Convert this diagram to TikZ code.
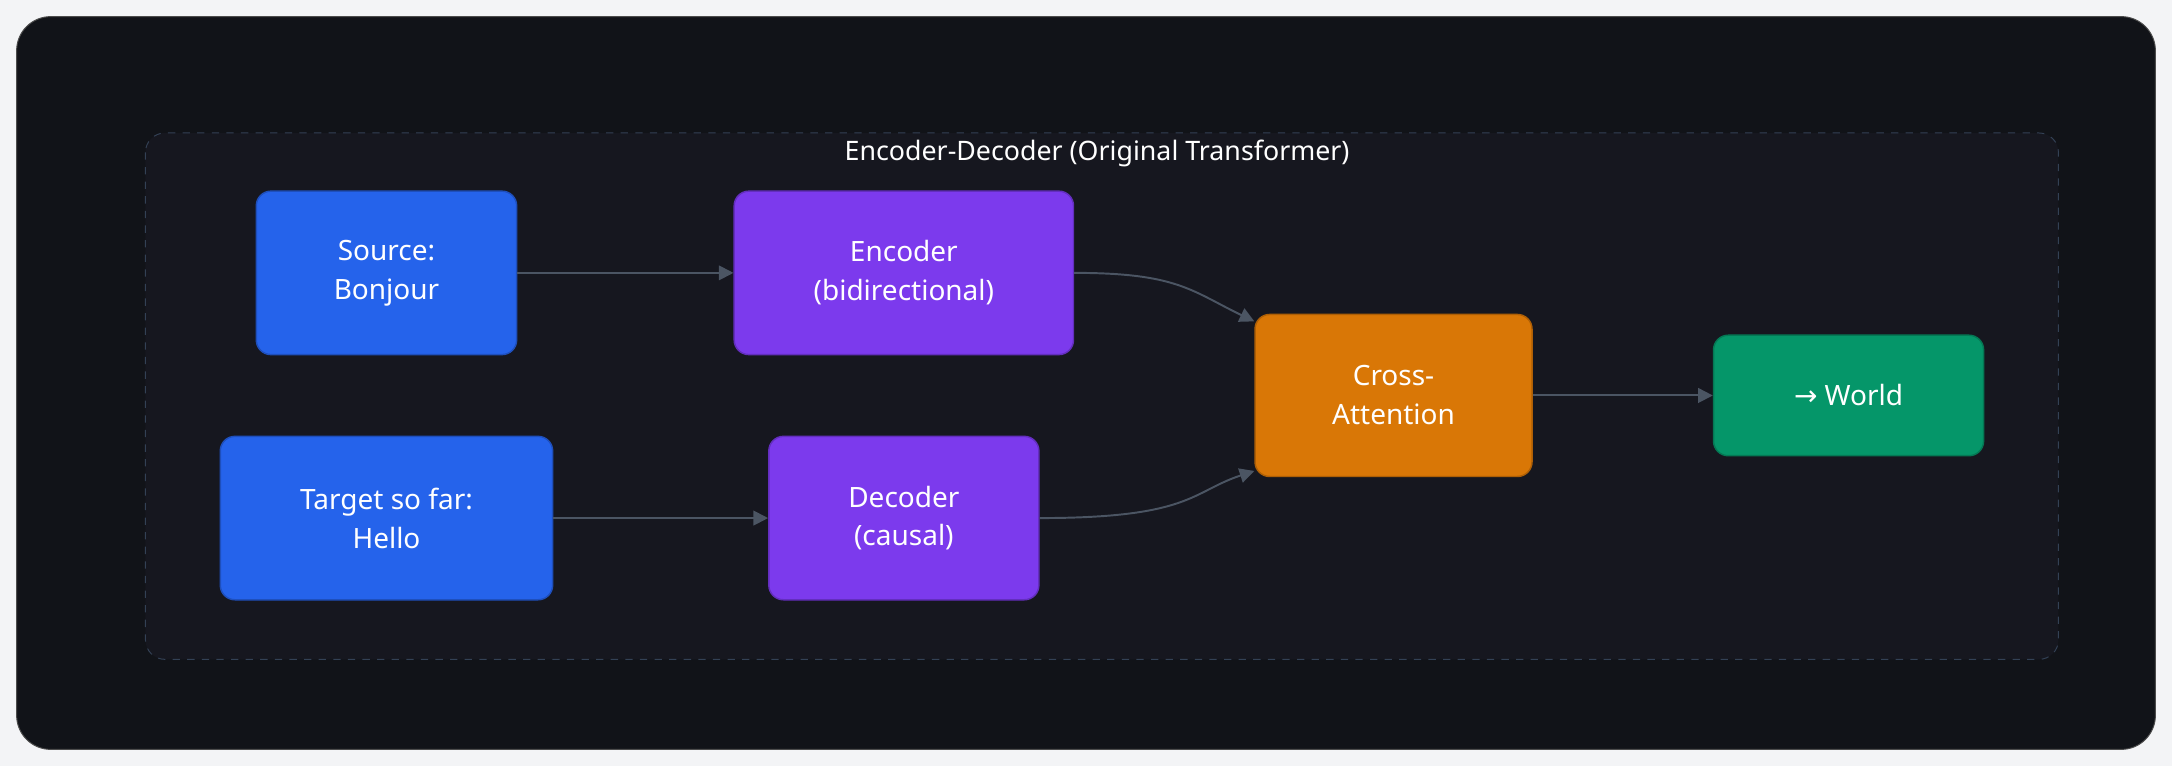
\documentclass[tikz,border=0pt]{standalone}
\usepackage{fontspec}
\setmainfont{Noto Sans}
\newfontfamily\symf{DejaVu Sans}
\usetikzlibrary{arrows.meta}
\definecolor{pagebg}{HTML}{F3F4F6}
\definecolor{outerbg}{HTML}{111318}
\definecolor{innerbg}{HTML}{16171F}
\definecolor{dashc}{HTML}{334155}
\definecolor{edgec}{HTML}{4B5563}
\definecolor{cblue}{HTML}{2563EB}
\definecolor{cpurple}{HTML}{7C3AED}
\definecolor{corange}{HTML}{D97706}
\definecolor{cgreen}{HTML}{059669}
\begin{document}
\begin{tikzpicture}[x=0.02cm,y=-0.02cm,
  box/.style={draw=#1!80!black,fill=#1,rounded corners=6pt,text=white,align=center,font=\fontsize{11.5}{16}\selectfont,line width=0.6pt},
  arr/.style={draw=edgec,line width=0.8pt,-{Triangle[length=6pt,width=6pt]}}]
\useasboundingbox (0,0) rectangle (1568,553);
\fill[pagebg] (0,0) rectangle (1568,553);
\fill[outerbg,draw=gray!60!black,rounded corners=14pt] (12,12) rectangle (1556,541);
\draw[dashc,dashed,fill=innerbg,rounded corners=8pt] (105,96) rectangle (1486,476);
\node[text=white,font=\bfseries\fontsize{11}{13}\selectfont] (title) at (792,111) {Encoder-Decoder (Original Transformer)};
\node[box=cblue,minimum width=188\pgflinewidth*0+3.76cm,minimum height=2.36cm] (src) at (279,197) {Source:\\Bonjour};
\node[box=cpurple,minimum width=4.9cm,minimum height=2.36cm] (enc) at (652.5,197) {Encoder\\(bidirectional)};
\node[box=cblue,minimum width=4.8cm,minimum height=2.36cm] (tgt) at (279,374) {Target so far:\\Hello};
\node[box=cpurple,minimum width=3.9cm,minimum height=2.36cm] (dec) at (652.5,374) {Decoder\\(causal)};
\node[box=corange,minimum width=4cm,minimum height=2.34cm] (ca) at (1006,285.5) {Cross-\\Attention};
\node[box=cgreen,minimum width=3.9cm,minimum height=1.74cm] (w) at (1334.5,285.5) {{\symf →} World};
\draw[arr] (src.east) -- (enc.west);
\draw[arr] (tgt.east) -- (dec.west);
\draw[arr] (enc.east) .. controls (850,197) and (860,210) .. (ca.north west |- 0,232);
\draw[arr] (dec.east) .. controls (860,374) and (860,355) .. (ca.south west |- 0,340);
\draw[arr] (ca.east) -- (w.west);
\end{tikzpicture}
\end{document}
